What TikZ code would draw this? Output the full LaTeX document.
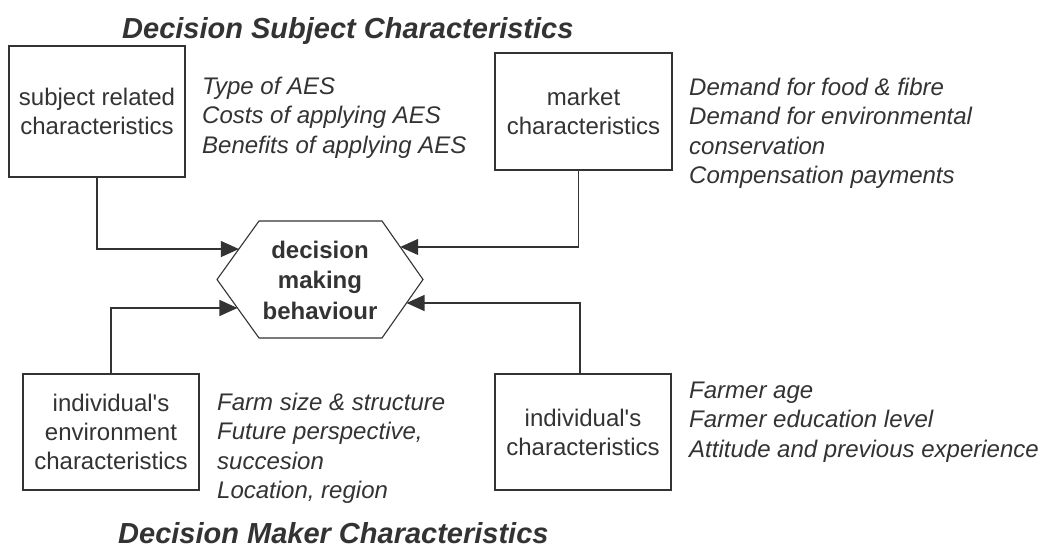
\documentclass[tikz,border=0pt]{standalone}
\usepackage{fontspec}
\setmainfont{Liberation Sans}
\usetikzlibrary{arrows.meta,calc}
\definecolor{ink}{RGB}{51,51,51}
\newcommand{\apos}{\textquotesingle}
\begin{document}
\begin{tikzpicture}[x=1pt,y=-1pt,
  every node/.style={text=ink},
  boxstyle/.style={draw=ink, line width=1.1pt, rectangle, inner sep=0pt, align=center,
    font=\fontsize{24}{29}\selectfont},
  liststyle/.style={anchor=north west, inner sep=0pt, align=left,
    font=\fontsize{24}{29.5}\selectfont\itshape},
  titlestyle/.style={anchor=base west, inner sep=0pt,
    font=\fontsize{29}{34}\selectfont\bfseries\itshape},
  arr/.style={draw=ink, line width=1.1pt, -{Triangle[length=18pt,width=16pt]}}
]
\useasboundingbox (0,0) rectangle (1043,554);
\fill[white] (0,0) rectangle (1043,554);

% titles
\node[titlestyle] (t1) at (122,38) {Decision Subject Characteristics};
\node[titlestyle] (t2) at (118,543) {Decision Maker Characteristics};

% boxes
\node[boxstyle, minimum width=176pt, minimum height=131pt] (box1) at (97,111.5)
  {subject related\\characteristics};
\node[boxstyle, minimum width=177pt, minimum height=117pt] (box2) at (583.5,111.5)
  {market\\characteristics};
\node[boxstyle, minimum width=176pt, minimum height=116pt] (box3) at (111,432)
  {individual\apos s\\environment\\characteristics};
\node[boxstyle, minimum width=176pt, minimum height=116pt] (box4) at (583,432)
  {individual\apos s\\characteristics};

% lists
\node[liststyle] (l1) at (202,74) {\rule{0pt}{20pt}Type of AES\\Costs of applying AES\\Benefits of applying AES};
\node[liststyle] (l2) at (689,75) {\rule{0pt}{20pt}Demand for food \& fibre\\Demand for environmental\\conservation\\Compensation payments};
\node[liststyle] (l3) at (217,390) {\rule{0pt}{20pt}Farm size \& structure\\Future perspective,\\succesion\\Location, region};
\node[liststyle] (l4) at (689,378) {\rule{0pt}{20pt}Farmer age\\Farmer education level\\Attitude and previous experience};

% hexagon
\coordinate (hL) at (217,279.5);
\coordinate (hTL) at (259,221);
\coordinate (hTR) at (382,221);
\coordinate (hR) at (423,279.5);
\coordinate (hBR) at (382,338);
\coordinate (hBL) at (259,338);
\filldraw[draw=ink, fill=white, line width=1.1pt] (hL) -- (hTL) -- (hTR) -- (hR) -- (hBR) -- (hBL) -- cycle;
\node[align=center, inner sep=0pt, font=\fontsize{24}{30.5}\selectfont\bfseries] (dec) at (320,280)
  {decision\\making\\behaviour};

\coordinate (hUL) at ($(hL)!0.521!(hTL)$);
\coordinate (hLL) at ($(hL)!0.487!(hBL)$);
\coordinate (hUR) at ($(hR)!0.556!(hTR)$);
\coordinate (hLR) at ($(hR)!0.402!(hBR)$);

% connectors
\draw[arr] (box1.south) |- (hUL);
\draw[arr] ([xshift=-5pt]box2.south) |- (hUR);
\draw[arr] (box3.north) |- (hLL);
\draw[arr] ([xshift=-3pt]box4.north) |- (hLR);
\end{tikzpicture}
\end{document}
